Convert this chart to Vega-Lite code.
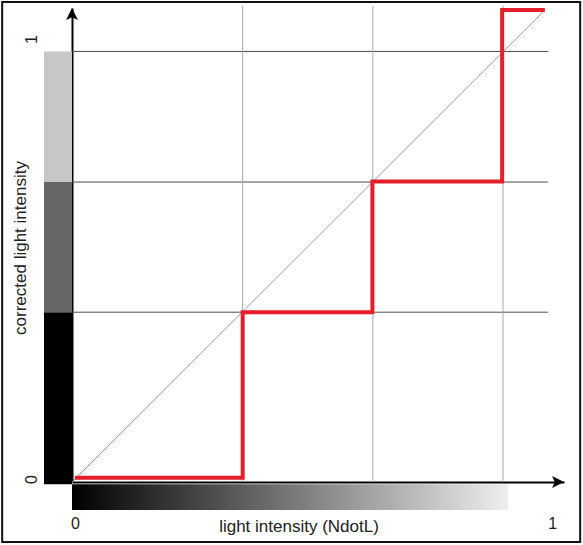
{
  "$schema": "https://vega.github.io/schema/vega-lite/v6.json",
  "width": 492,
  "height": 474,
  "autosize": {"type": "none"},
  "padding": {"left": 72, "top": 8, "right": 19, "bottom": 63},
  "background": "white",
  "config": {
    "view": {"stroke": null},
    "font": "Liberation Sans"
  },
  "layer": [
    {
      "data": {"values": [{"item": "frame"}]},
      "mark": {"type": "rect", "filled": false, "stroke": "#111111", "strokeWidth": 2},
      "encoding": {
        "x": {"datum": -0.162, "type": "quantitative"},
        "x2": {"datum": 1.179},
        "y": {"datum": -0.139, "type": "quantitative"},
        "y2": {"datum": 1.114}
      }
    },
    {
      "data": {"values": [{"item": "gradient"}]},
      "mark": {
        "type": "rect",
        "color": {
          "gradient": "linear",
          "x1": 0, "y1": 0, "x2": 1, "y2": 0,
          "stops": [
            {"offset": 0, "color": "#000000"},
            {"offset": 1, "color": "#eeeeee"}
          ]
        }
      },
      "encoding": {
        "x": {"datum": 0, "type": "quantitative"},
        "x2": {"datum": 1.012},
        "y": {"datum": -0.005, "type": "quantitative"},
        "y2": {"datum": -0.065}
      }
    },
    {
      "data": {"values": [
        {"lo": -0.005, "hi": 0.394, "shade": 0},
        {"lo": 0.394, "hi": 0.696, "shade": 0.4},
        {"lo": 0.696, "hi": 0.999, "shade": 0.78}
      ]},
      "mark": {"type": "rect"},
      "encoding": {
        "x": {"datum": -0.065, "type": "quantitative"},
        "x2": {"datum": 0},
        "y": {"field": "lo", "type": "quantitative"},
        "y2": {"field": "hi"},
        "color": {"field": "shade", "type": "quantitative", "scale": {"domain": [0, 1], "range": ["#000000", "#ffffff"], "interpolate": "rgb"}, "legend": null}
      }
    },
    {
      "data": {"values": [{"v": 0.394}, {"v": 0.696}, {"v": 0.999}]},
      "mark": {"type": "rule", "color": "#4d4d4d", "strokeWidth": 1},
      "encoding": {
        "y": {"field": "v", "type": "quantitative"},
        "x": {"datum": 0, "type": "quantitative"},
        "x2": {"datum": 1.104}
      }
    },
    {
      "data": {"values": [{"v": 0.396}, {"v": 0.698}, {"v": 1.0}]},
      "mark": {"type": "rule", "color": "#aaaaaa", "strokeWidth": 1},
      "encoding": {
        "x": {"field": "v", "type": "quantitative"},
        "y": {"datum": 0, "type": "quantitative"},
        "y2": {"datum": 1.105}
      }
    },
    {
      "data": {"values": [{"x": 0, "y": 0}, {"x": 1.097, "y": 1.095}]},
      "mark": {"type": "line", "color": "#999999", "strokeWidth": 1},
      "encoding": {
        "x": {"field": "x", "type": "quantitative"},
        "y": {"field": "y", "type": "quantitative"}
      }
    },
    {
      "data": {"values": [
        {"x": 0.007, "y": 0.01, "o": 1},
        {"x": 0.396, "y": 0.01, "o": 2},
        {"x": 0.396, "y": 0.394, "o": 3},
        {"x": 0.697, "y": 0.394, "o": 4},
        {"x": 0.697, "y": 0.697, "o": 5},
        {"x": 0.998, "y": 0.697, "o": 6},
        {"x": 0.998, "y": 1.095, "o": 7},
        {"x": 1.097, "y": 1.095, "o": 8}
      ]},
      "mark": {"type": "line", "color": "#e41e2b", "strokeWidth": 4, "strokeJoin": "miter", "strokeCap": "butt"},
      "encoding": {
        "order": {"field": "o", "type": "quantitative"},
        "x": {
          "field": "x", "type": "quantitative",
          "scale": {"domain": [0, 1.1415], "nice": false, "zero": false},
          "axis": {
            "values": [0.007, 1.114],
            "labelExpr": "datum.value < 0.5 ? '0' : '1'",
            "grid": false, "ticks": false, "tickSize": 0,
            "domainColor": "#000000", "domainWidth": 2,
            "labelFontSize": 16, "labelColor": "#222222", "labelFont": "Liberation Sans",
            "labelBaseline": "alphabetic", "labelAlign": "center", "labelPadding": 46,
            "labelFlush": false, "labelOverlap": false,
            "title": "light intensity (NdotL)",
            "titleFont": "Liberation Sans", "titleFontSize": 17, "titleFontWeight": "normal",
            "titleColor": "#222222", "titleBaseline": "alphabetic", "titleAlign": "center",
            "titleX": 226.5, "titleY": 49
          }
        },
        "y": {
          "field": "y", "type": "quantitative",
          "scale": {"domain": [0, 1.0998], "nice": false, "zero": false},
          "axis": {
            "values": [0.007, 1.028],
            "labelExpr": "datum.value < 0.5 ? '0' : '1'",
            "grid": false, "ticks": false, "tickSize": 0,
            "domainColor": "#000000", "domainWidth": 2,
            "labelFontSize": 16, "labelColor": "#222222", "labelFont": "Liberation Sans",
            "labelAngle": 270, "labelBaseline": "alphabetic", "labelAlign": "center", "labelPadding": 36,
            "labelFlush": false, "labelOverlap": false,
            "title": "corrected light intensity",
            "titleFont": "Liberation Sans", "titleFontSize": 17, "titleFontWeight": "normal",
            "titleColor": "#222222", "titleAngle": 270, "titleBaseline": "alphabetic", "titleAlign": "center",
            "titleX": -47, "titleY": 239.5
          }
        }
      }
    },
    {
      "data": {"values": [
        {"x": 0, "y": 1.0998, "dir": 0},
        {"x": 1.1415, "y": 0, "dir": 90}
      ]},
      "mark": {"type": "point", "shape": "M0,0L0.45,0.9L0,0.7L-0.45,0.9Z", "filled": true, "color": "#000000", "size": 700, "opacity": 1},
      "encoding": {
        "x": {"field": "x", "type": "quantitative"},
        "y": {"field": "y", "type": "quantitative"},
        "angle": {"field": "dir", "type": "quantitative", "scale": null}
      }
    }
  ]
}
